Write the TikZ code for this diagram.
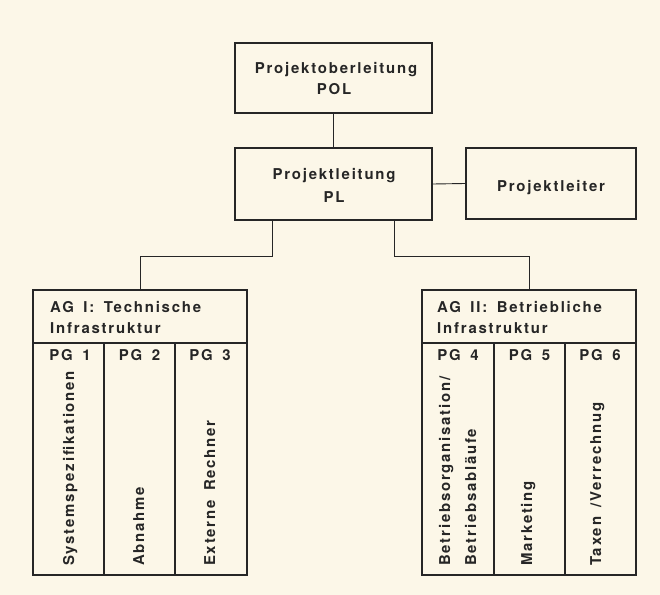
\documentclass[tikz,border=0pt]{standalone}
\usepackage{fontspec}
\newfontfamily\hv[LetterSpace=12,WordSpace=1.6]{TeX Gyre Heros}
\definecolor{paper}{HTML}{FCF7E8}
\definecolor{ink}{HTML}{262626}
\begin{document}
\begin{tikzpicture}[x=1bp,y=-1bp,
  every node/.style={font=\hv\bfseries\fontsize{15}{21}\selectfont, text=ink},
  box/.style={draw=ink, line width=1.9bp, inner sep=0pt, rectangle},
  conn/.style={draw=ink, line width=0.9bp},
  sep/.style={draw=ink, line width=1.1bp},
  lbl/.style={anchor=base, inner sep=0pt},
  vlbl/.style={anchor=base west, rotate=90, inner sep=0pt}]
\fill[paper] (0,0) rectangle (660,595);
\useasboundingbox (0,0) rectangle (660,595);
% boxes
\node[box, minimum width=197bp, minimum height=70bp] (pol) at (333.5,78) {};
\node[box, minimum width=197bp, minimum height=72bp] (pl) at (333.5,184) {};
\node[box, minimum width=170bp, minimum height=71bp] (pm) at (551,183.5) {};
\node[box, minimum width=214bp, minimum height=285bp] (ag1) at (140,432.5) {};
\node[box, minimum width=214bp, minimum height=285bp] (ag2) at (529,432.5) {};
% texts
\node[lbl] (t1) at (336,74) {Projektoberleitung};
\node[lbl] (t2) at (334,95) {POL};
\node[lbl] (t3) at (334,180) {Projektleitung};
\node[lbl] (t4) at (334,202) {PL};
\node[lbl] (t5) at (551,192) {Projektleiter};
\node[lbl, anchor=base west] (h1a) at (50,312) {AG I: Technische};
\node[lbl, anchor=base west] (h1b) at (50,333) {Infrastruktur};
\node[lbl, anchor=base west] (h2a) at (437,312) {AG II: Betriebliche};
\node[lbl, anchor=base west] (h2b) at (437,333) {Infrastruktur};
\node[lbl] (p1) at (70,360) {PG 1};
\node[lbl] (p2) at (139.5,360) {PG 2};
\node[lbl] (p3) at (210,360) {PG 3};
\node[lbl] (p4) at (458,360) {PG 4};
\node[lbl] (p5) at (529.5,360) {PG 5};
\node[lbl] (p6) at (600,360) {PG 6};
\node[vlbl] (v1) at (74,566) {Systemspezifikationen};
\node[vlbl] (v2) at (144,566) {Abnahme};
\node[vlbl] (v3) at (215,566) {Externe Rechner};
\node[vlbl] (v4a) at (450,566) {Betriebsorganisation/};
\node[vlbl] (v4b) at (476,566) {Betriebsabläufe};
\node[vlbl] (v5) at (532,566) {Marketing};
\node[vlbl] (v6) at (601,566) {Taxen /Verrechnug};
% inner separators
\coordinate (s1) at (0,343);
\draw[sep] (ag1.west |- s1) -- (ag1.east |- s1);
\draw[sep] (ag2.west |- s1) -- (ag2.east |- s1);
\foreach \x in {104,175} {\draw[sep] (\x,343) -- (\x,0 |- ag1.south);}
\foreach \x in {494,565} {\draw[sep] (\x,343) -- (\x,0 |- ag2.south);}
% connectors
\draw[conn] (pol.south) -- (pl.north);
\draw[conn] (pl.east) -- (pm.west);
\coordinate (j1) at (272,256);
\coordinate (j2) at (394,256);
\draw[conn] (j1 |- pl.south) -- (j1) -| (ag1.north);
\draw[conn] (j2 |- pl.south) -- (j2) -| (ag2.north);
\end{tikzpicture}
\end{document}
